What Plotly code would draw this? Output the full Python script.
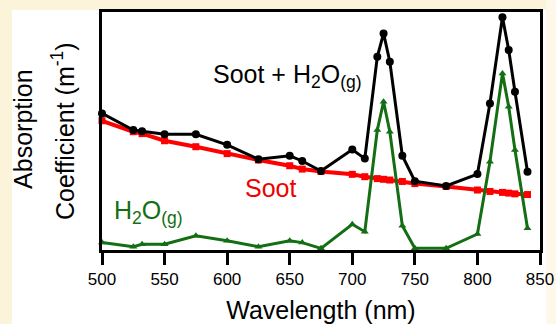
import plotly.graph_objects as go

# ---- data (arbitrary absorption units) ----
wavelength = [500, 525, 532, 550, 575, 600, 625, 650, 660, 675, 700, 710,
              720, 725, 730, 740, 750, 775, 800, 810, 820, 825, 830, 840]
soot_h2o = [0.574, 0.504, 0.499, 0.486, 0.486, 0.442, 0.381, 0.396, 0.374, 0.332, 0.422, 0.384,
            0.812, 0.910, 0.791, 0.396, 0.289, 0.269, 0.319, 0.616, 0.978, 0.840, 0.665, 0.329]
soot = [0.543, 0.497, 0.489, 0.459, 0.434, 0.405, 0.378, 0.354, 0.340, 0.330, 0.318, 0.308,
        0.300, 0.297, 0.294, 0.288, 0.279, 0.267, 0.252, 0.246, 0.242, 0.239, 0.236, 0.233]
h2o = [0.032, 0.014, 0.024, 0.024, 0.060, 0.039, 0.014, 0.039, 0.031, 0.007, 0.108, 0.077,
       0.504, 0.623, 0.497, 0.102, 0.007, 0.007, 0.067, 0.371, 0.742, 0.602, 0.420, 0.091]
x_ticks = [500, 550, 600, 650, 700, 750, 800, 850]

FONT = "Arial, Liberation Sans, sans-serif"
GREEN = "#146E14"
RED = "#FF0000"
CREAM = "#FCF3DB"

fig = go.Figure()
fig.add_trace(go.Scatter(x=wavelength, y=soot, mode="lines+markers", name="Soot",
                         line=dict(color=RED, width=4),
                         marker=dict(symbol="square", size=7, color=RED),
                         cliponaxis=False))
fig.add_trace(go.Scatter(x=wavelength, y=h2o, mode="lines+markers", name="H2O",
                         line=dict(color=GREEN, width=3),
                         marker=dict(symbol="triangle-up", size=7, color=GREEN),
                         cliponaxis=False))
fig.add_trace(go.Scatter(x=wavelength, y=soot_h2o, mode="lines+markers", name="Soot + H2O",
                         line=dict(color="black", width=3),
                         marker=dict(symbol="circle", size=8, color="black"),
                         cliponaxis=False))

fig.update_layout(
    width=556, height=324,
    margin=dict(l=102, r=16, t=12, b=74, autoexpand=False),
    paper_bgcolor=CREAM, plot_bgcolor="white",
    showlegend=False,
    font=dict(family=FONT, color="black"),
    shapes=[
        dict(type="rect", xref="paper", yref="paper", x0=-0.2055, x1=1.0137, y0=-0.4, y1=1.0084,
             fillcolor="white", line=dict(width=0), layer="below"),
        dict(type="rect", xref="paper", yref="paper", x0=1.0137, x1=1.06, y0=-0.4, y1=1.2,
             fillcolor="#FEF8EA", line=dict(width=0), layer="below"),
    ],
    xaxis=dict(range=[500, 850], tickvals=x_ticks, ticks="outside", ticklen=12, tickwidth=3,
               tickcolor="black", showline=True, linewidth=3, linecolor="black", mirror=True,
               showgrid=False, zeroline=False, tickfont=dict(size=17, family=FONT),
               automargin=False,
               title=dict(text="Wavelength (nm)", font=dict(size=25, family=FONT), standoff=24)),
    yaxis=dict(range=[0, 1], showticklabels=False, ticks="", showline=True, linewidth=3,
               linecolor="black", mirror=True, showgrid=False, zeroline=False, automargin=False),
    annotations=[
        dict(text="Absorption", xref="paper", yref="paper", x=-0.182, y=0.51, textangle=-90,
             showarrow=False, xanchor="center", yanchor="middle", font=dict(size=25, family=FONT)),
        dict(text="Coefficient (m<sup>-1</sup>)", xref="paper", yref="paper", x=-0.089, y=0.50,
             textangle=-90, showarrow=False, xanchor="center", yanchor="middle",
             font=dict(size=25, family=FONT)),
        dict(text="Soot + H<sub>2</sub>O<sub>(g)</sub>", x=587, y=0.73, xref="x", yref="y",
             showarrow=False, xanchor="left", yanchor="middle", font=dict(size=25, color="black")),
        dict(text="Soot", x=635, y=0.26, xref="x", yref="y", showarrow=False,
             xanchor="center", yanchor="middle", font=dict(size=25, color="#EE0000")),
        dict(text="H<sub>2</sub>O<sub>(g)</sub>", x=508, y=0.16, xref="x", yref="y",
             showarrow=False, xanchor="left", yanchor="middle", font=dict(size=25, color=GREEN)),
    ],
)

fig.write_html("out.html")
